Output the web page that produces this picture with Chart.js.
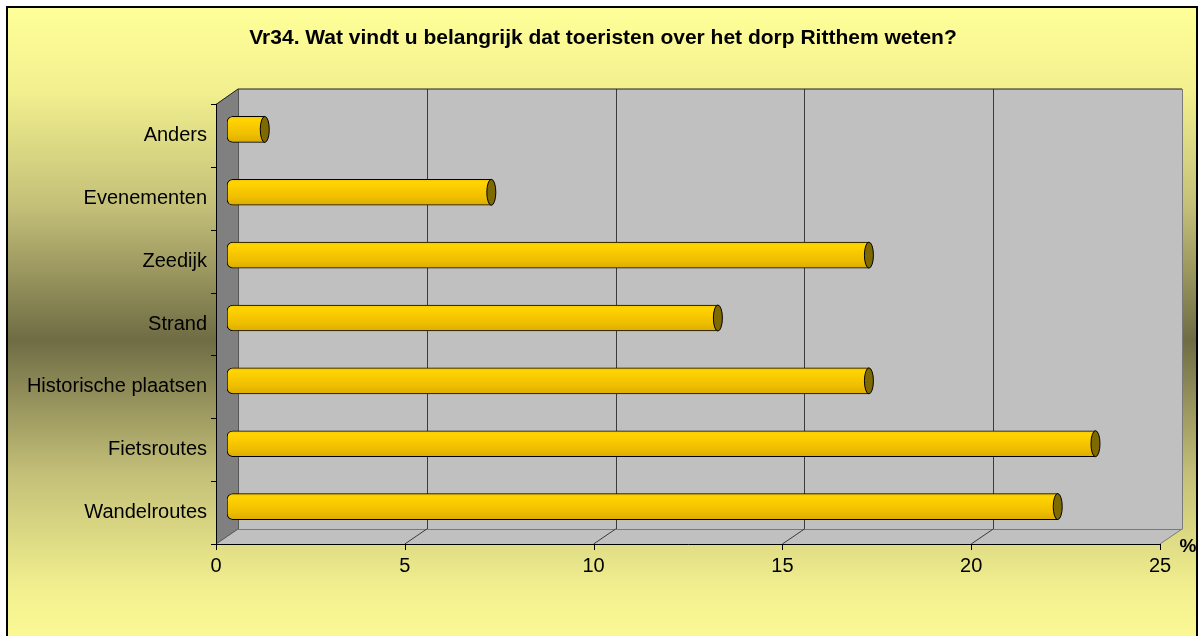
<!DOCTYPE html>
<html><head><meta charset="utf-8">
<script src="https://cdn.jsdelivr.net/npm/chart.js@4/dist/chart.umd.min.js"></script>
<style>html,body{margin:0;padding:0;background:#fff;}canvas{display:block;}</style>
</head><body>
<canvas id="c" width="1198" height="636"></canvas>
<script>
const categories = ['Anders','Evenementen','Zeedijk','Strand','Historische plaatsen','Fietsroutes','Wandelroutes'];
const percentages = [1, 7, 17, 13, 17, 23, 22];
const xTicks = [0, 5, 10, 15, 20, 25];
const titleText = 'Vr34. Wat vindt u belangrijk dat toeristen over het dorp Ritthem weten?';
const unitLabel = '%';

const FONT = '"Liberation Sans", Arial, sans-serif';
const BAR = {dx: 11, dy: -6};
const WALL = {dx: 22, dy: -15};

const frame = {
  id: 'frame',
  beforeDraw(chart) {
    const ctx = chart.ctx;
    ctx.save();
    ctx.fillStyle = '#ffffff';
    ctx.fillRect(0, 0, chart.width, chart.height);
    const g = ctx.createLinearGradient(0, 8, 0, 672);
    g.addColorStop(0, '#FFFF99');
    g.addColorStop(0.12, '#F3F18F');
    g.addColorStop(0.3, '#C3BF78');
    g.addColorStop(0.5, '#6F6C45');
    g.addColorStop(0.7, '#C3BF78');
    g.addColorStop(0.88, '#F3F18F');
    g.addColorStop(1, '#FFFF99');
    ctx.fillStyle = g;
    ctx.fillRect(8, 8, 1189, 640);
    ctx.strokeStyle = '#000';
    ctx.lineWidth = 2;
    ctx.strokeRect(7, 7, 1190, 660);
    // title
    ctx.fillStyle = '#000';
    ctx.font = 'bold 21px ' + FONT;
    ctx.textAlign = 'center';
    ctx.textBaseline = 'middle';
    ctx.fillText(titleText, 603, 38);
    ctx.restore();
  },
  beforeDatasetsDraw(chart) {
    const ctx = chart.ctx;
    const a = chart.chartArea;
    const xs = chart.scales.x;
    const L = a.left, R = a.right, T = a.top, B = a.bottom;
    ctx.save();
    // back wall
    ctx.fillStyle = '#C0C0C0';
    ctx.fillRect(L + WALL.dx, T + WALL.dy, R - L, B - T);
    // gridlines on back wall
    ctx.strokeStyle = '#3a3a3a';
    ctx.lineWidth = 1;
    xTicks.forEach(v => {
      if (v === xTicks[0]) return;
      const x = Math.round(xs.getPixelForValue(v) + WALL.dx) + 0.5;
      ctx.beginPath();
      ctx.moveTo(x, T + WALL.dy);
      ctx.lineTo(x, B + WALL.dy);
      ctx.stroke();
    });
    // wall right edge
    ctx.strokeStyle = '#7a7a7a';
    ctx.beginPath();
    ctx.moveTo(R + WALL.dx + 0.5, T + WALL.dy);
    ctx.lineTo(R + WALL.dx + 0.5, B + WALL.dy + 0.5);
    ctx.stroke();
    // floor
    ctx.fillStyle = '#C0C0C0';
    ctx.beginPath();
    ctx.moveTo(L, B);
    ctx.lineTo(L + WALL.dx, B + WALL.dy);
    ctx.lineTo(R + WALL.dx, B + WALL.dy);
    ctx.lineTo(R, B);
    ctx.closePath();
    ctx.fill();
    ctx.strokeStyle = '#7a7a7a';
    ctx.beginPath();
    ctx.moveTo(L + WALL.dx, B + WALL.dy + 0.5);
    ctx.lineTo(R + WALL.dx, B + WALL.dy + 0.5);
    ctx.moveTo(R, B);
    ctx.lineTo(R + WALL.dx, B + WALL.dy);
    ctx.stroke();
    ctx.strokeStyle = '#3a3a3a';
    xTicks.forEach(v => {
      if (v === xTicks[0] || v === xTicks[xTicks.length - 1]) return;
      const x = xs.getPixelForValue(v);
      ctx.beginPath();
      ctx.moveTo(x, B);
      ctx.lineTo(x + WALL.dx, B + WALL.dy);
      ctx.stroke();
    });
    // left wall
    ctx.fillStyle = '#808080';
    ctx.beginPath();
    ctx.moveTo(L, T);
    ctx.lineTo(L + WALL.dx, T + WALL.dy);
    ctx.lineTo(L + WALL.dx, B + WALL.dy);
    ctx.lineTo(L, B);
    ctx.closePath();
    ctx.fill();
    ctx.strokeStyle = '#555';
    ctx.beginPath();
    ctx.moveTo(L + WALL.dx + 0.5, T + WALL.dy);
    ctx.lineTo(L + WALL.dx + 0.5, B + WALL.dy);
    ctx.moveTo(L, B);
    ctx.lineTo(L + WALL.dx, B + WALL.dy);
    ctx.stroke();
    ctx.strokeStyle = '#222';
    ctx.beginPath();
    ctx.moveTo(L, T + 0.5);
    ctx.lineTo(L + WALL.dx, T + WALL.dy);
    ctx.lineTo(R + WALL.dx, T + WALL.dy);
    ctx.stroke();
    // axes
    ctx.strokeStyle = '#000';
    ctx.beginPath();
    ctx.moveTo(L + 0.5, T);
    ctx.lineTo(L + 0.5, B + 0.5);
    ctx.lineTo(R, B + 0.5);
    ctx.stroke();
    xTicks.forEach(v => {
      const x = Math.round(xs.getPixelForValue(v)) + 0.5;
      ctx.beginPath();
      ctx.moveTo(x, B);
      ctx.lineTo(x, B + 6);
      ctx.stroke();
    });
    const n = categories.length;
    for (let i = 0; i <= n; i++) {
      const y = Math.round(T + (B - T) * i / n) + 0.5;
      ctx.beginPath();
      ctx.moveTo(L - 5, y);
      ctx.lineTo(L, y);
      ctx.stroke();
    }
    // unit label
    ctx.fillStyle = '#000';
    ctx.font = 'bold 19px ' + FONT;
    ctx.textAlign = 'center';
    ctx.textBaseline = 'middle';
    ctx.fillText(unitLabel, R + 28, B + 3);
    ctx.restore();
    // shift bar plane
    ctx.save();
    ctx.translate(BAR.dx, BAR.dy);
  },
  afterDatasetsDraw(chart) {
    const ctx = chart.ctx;
    ctx.restore();
    const meta = chart.getDatasetMeta(0);
    ctx.save();
    meta.data.forEach(el => {
      const p = el.getProps(['x', 'y', 'height'], true);
      ctx.fillStyle = '#7F6A00';
      ctx.strokeStyle = '#000';
      ctx.lineWidth = 1;
      ctx.beginPath();
      ctx.ellipse(p.x + BAR.dx, p.y + BAR.dy, 4.5, p.height / 2, 0, 0, Math.PI * 2);
      ctx.fill();
      ctx.stroke();
    });
    ctx.restore();
  }
};

new Chart(document.getElementById('c'), {
  type: 'bar',
  data: {
    labels: categories,
    datasets: [{
      data: percentages,
      backgroundColor(c) {
        const ch = c.chart;
        const ys = ch.scales && ch.scales.y;
        if (!ys || !ch.chartArea) return '#F2C200';
        const yc = ys.getPixelForValue(c.dataIndex);
        const g = ch.ctx.createLinearGradient(0, yc - 13, 0, yc + 13);
        g.addColorStop(0, '#F5C500');
        g.addColorStop(0.12, '#FFD500');
        g.addColorStop(0.35, '#FACB00');
        g.addColorStop(0.7, '#EEBE00');
        g.addColorStop(1, '#DCAC00');
        return g;
      },
      borderColor: '#000',
      borderWidth: 1,
      borderSkipped: false,
      borderRadius: {topLeft: 6, bottomLeft: 6, topRight: 0, bottomRight: 0},
      barThickness: 26
    }]
  },
  options: {
    indexAxis: 'y',
    responsive: false,
    devicePixelRatio: 1,
    animation: false,
    layout: {padding: {left: 0, top: 104, right: 38, bottom: 0}},
    plugins: {legend: {display: false}, title: {display: false}, tooltip: {enabled: false}},
    scales: {
      x: {
        min: 0, max: 25,
        afterFit(s) { s.height = 92; },
        afterBuildTicks(s) { s.ticks = xTicks.map(v => ({value: v})); },
        grid: {display: false, drawTicks: false},
        border: {display: false},
        ticks: {color: '#000', font: {family: FONT, size: 20}, padding: 10, maxRotation: 0}
      },
      y: {
        afterFit(s) { s.width = 216; },
        grid: {display: false, drawTicks: false},
        border: {display: false},
        ticks: {color: '#000', font: {family: FONT, size: 20}, padding: 9}
      }
    }
  },
  plugins: [frame]
});
</script>
</body></html>
